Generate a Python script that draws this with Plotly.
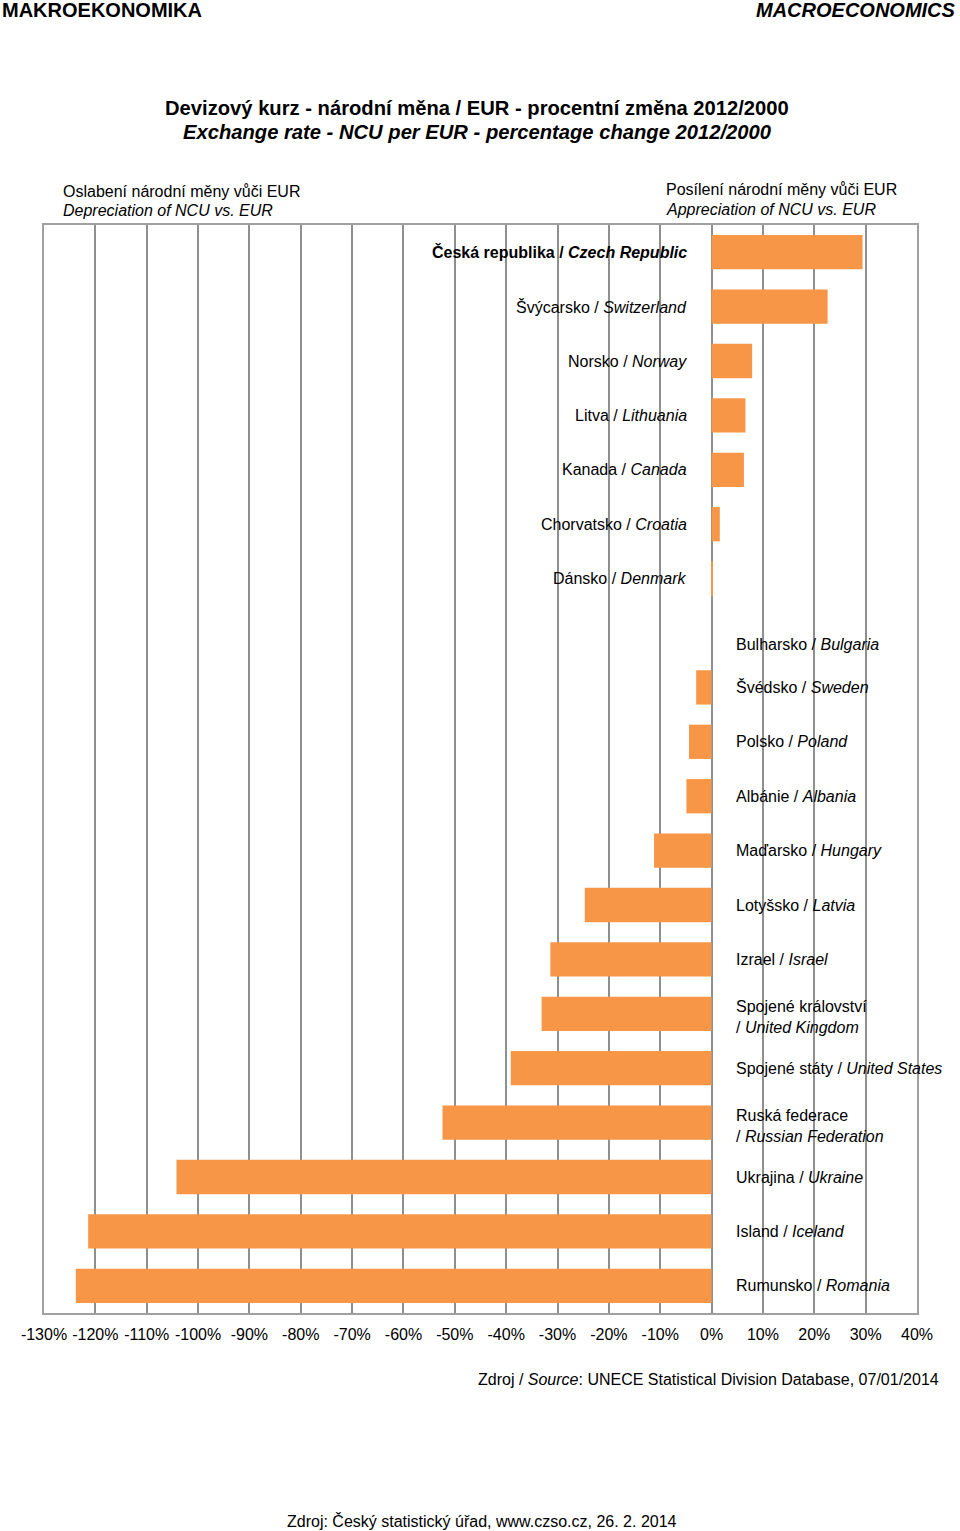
import plotly.graph_objects as go

# ---- data ----
countries_cz = ["Česká republika", "Švýcarsko", "Norsko", "Litva", "Kanada", "Chorvatsko",
                "Dánsko", "Bulharsko", "Švédsko", "Polsko", "Albánie", "Maďarsko", "Lotyšsko",
                "Izrael", "Spojené království", "Spojené státy", "Ruská federace", "Ukrajina",
                "Island", "Rumunsko"]
countries_en = ["Czech Republic", "Switzerland", "Norway", "Lithuania", "Canada", "Croatia",
                "Denmark", "Bulgaria", "Sweden", "Poland", "Albania", "Hungary", "Latvia",
                "Israel", "United Kingdom", "United States", "Russian Federation", "Ukraine",
                "Iceland", "Romania"]
change_pct = [29.4, 22.6, 7.9, 6.6, 6.3, 1.6,
              0.1, 0.0, -3.0, -4.4, -4.9, -11.2, -24.7,
              -31.4, -33.1, -39.1, -52.4, -104.2,
              -121.4, -123.8]
two_line = ["Spojené království", "Ruská federace"]
x_ticks = list(range(-130, 41, 10))

FONT = "Liberation Sans, Arial, sans-serif"
W, H = 960, 1531
L, R, T, B = 44, 917, 225, 1313

fig = go.Figure()
fig.add_trace(go.Bar(
    x=change_pct, y=countries_en, orientation="h",
    marker=dict(color="#F79646", line=dict(width=0)),
    hoverinfo="x+y",
))

ann = []
for cz, en, v in zip(countries_cz, countries_en, change_pct):
    if cz == "Česká republika":
        txt = f"<b>{cz} / <i>{en}</i></b>"
    elif cz in two_line:
        txt = f"{cz}<br>/ <i>{en}</i>"
    else:
        txt = f"{cz} / <i>{en}</i>"
    shift_y = -11 if cz == "Bulharsko" else (-3 if cz in two_line else 0)
    if v > 0:
        ann.append(dict(x=0, y=en, xref="x", yref="y", text=txt, showarrow=False,
                        xanchor="right", xshift=-23, yshift=shift_y, align="right",
                        font=dict(family=FONT, size=16, color="black")))
    else:
        ann.append(dict(x=0, y=en, xref="x", yref="y", text=txt, showarrow=False,
                        xanchor="left", xshift=22, yshift=shift_y, align="left",
                        font=dict(family=FONT, size=16, color="black")))

def px(xp):
    return (xp - L) / (R - L)

def py(yp):
    return (B - yp) / (B - T)

def txt(x, y, s, size, xanchor="left", bold=False, italic=False):
    if italic:
        s = f"<i>{s}</i>"
    if bold:
        s = f"<b>{s}</b>"
    ann.append(dict(x=px(x), y=py(y), xref="paper", yref="paper", text=s, showarrow=False,
                    xanchor=xanchor, yanchor="middle",
                    font=dict(family=FONT, size=size, color="black")))

txt(0, 10, "MAKROEKONOMIKA", 20, bold=True)
txt(958, 10, "MACROECONOMICS", 20, xanchor="right", bold=True, italic=True)
txt(477, 108, "Devizový kurz - národní měna / EUR - procentní změna 2012/2000", 20.2, xanchor="center", bold=True)
txt(477, 132, "Exchange rate - NCU per EUR - percentage change 2012/2000", 20.2, xanchor="center", bold=True, italic=True)
txt(61, 191, "Oslabení národní měny vůči EUR", 16)
txt(61, 210, "Depreciation of NCU vs. EUR", 16, italic=True)
txt(664, 190, "Posílení národní měny vůči EUR", 16)
txt(664, 209, "Appreciation of NCU vs. EUR", 16, italic=True)
txt(941, 1379, "Zdroj / <i>Source</i>: UNECE Statistical Division Database, 07/01/2014", 16, xanchor="right")
txt(482, 1521, "Zdroj: Český statistický úřad, www.czso.cz, 26. 2. 2014", 16, xanchor="center")

fig.update_layout(
    width=W, height=H,
    margin=dict(l=L, r=W - R, t=T, b=H - B, pad=0),
    paper_bgcolor="white", plot_bgcolor="white",
    showlegend=False, bargap=0.37,
    font=dict(family=FONT, size=16, color="black"),
    annotations=ann,
    xaxis=dict(range=[-130, 40], tickvals=x_ticks, ticktext=[f"{t}%" for t in x_ticks],
               showgrid=True, gridcolor="#8f8f8f", gridwidth=1.5, zeroline=False,
               showline=True, mirror=True, linecolor="#a0a0a0", linewidth=2,
               ticks="", ticklabelstandoff=6,
               tickfont=dict(family=FONT, size=16, color="black"), fixedrange=True),
    yaxis=dict(autorange="reversed", showticklabels=False, showgrid=False, zeroline=False,
               showline=True, mirror=True, linecolor="#a0a0a0", linewidth=2, ticks="",
               fixedrange=True),
)

fig.write_html("out.html")
